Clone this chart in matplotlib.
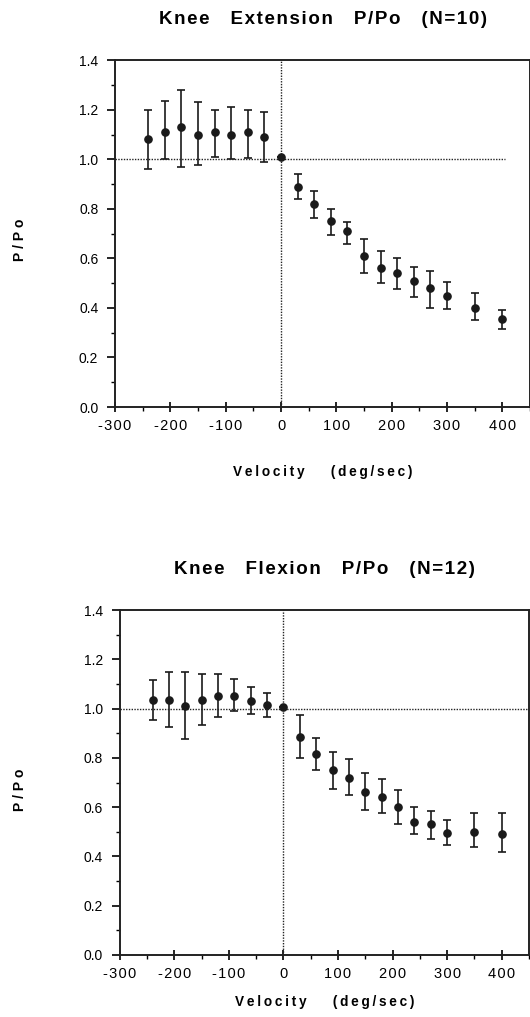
import numpy as np
import matplotlib.pyplot as plt
from matplotlib.ticker import MultipleLocator

plt.rcParams['font.family'] = ['Liberation Sans', 'DejaVu Sans']
plt.rcParams['axes.unicode_minus'] = False

# velocities (deg/sec)
velocity = [-240, -210, -180, -150, -120, -90, -60, -30, 0,
            30, 60, 90, 120, 150, 180, 210, 240, 270, 300, 350, 400]

# Knee extension (N=10)
ext_mean = [1.08, 1.11, 1.13, 1.10, 1.11, 1.10, 1.11, 1.09, 1.01,
            0.89, 0.82, 0.75, 0.71, 0.61, 0.56, 0.54, 0.51, 0.48, 0.45, 0.40, 0.355]
ext_hi = [1.20, 1.235, 1.28, 1.23, 1.20, 1.21, 1.20, 1.19, 1.01,
          0.94, 0.87, 0.80, 0.745, 0.68, 0.63, 0.60, 0.565, 0.55, 0.505, 0.46, 0.39]
ext_lo = [0.96, 1.00, 0.97, 0.975, 1.01, 1.00, 1.005, 0.99, 1.01,
          0.84, 0.765, 0.695, 0.66, 0.54, 0.50, 0.475, 0.445, 0.40, 0.395, 0.35, 0.315]

# Knee flexion (N=12)
flx_mean = [1.035, 1.035, 1.01, 1.035, 1.05, 1.05, 1.03, 1.015, 1.005,
            0.885, 0.815, 0.75, 0.72, 0.66, 0.64, 0.60, 0.54, 0.53, 0.495, 0.50, 0.49]
flx_hi = [1.115, 1.15, 1.15, 1.14, 1.14, 1.12, 1.09, 1.065, 1.005,
          0.975, 0.88, 0.825, 0.795, 0.74, 0.715, 0.67, 0.60, 0.585, 0.55, 0.575, 0.575]
flx_lo = [0.955, 0.925, 0.875, 0.935, 0.965, 0.99, 0.98, 0.965, 1.005,
          0.80, 0.75, 0.675, 0.65, 0.59, 0.575, 0.53, 0.49, 0.47, 0.445, 0.44, 0.42]

xticks = [-300, -200, -100, 0, 100, 200, 300, 400]
yticks = [0.0, 0.2, 0.4, 0.6, 0.8, 1.0, 1.2, 1.4]

W, H = 530, 1017


def spaced(s, sp):
    # fake the wide letter spacing of the old typewriter-ish labels
    return sp.join(s)


def panel(ax, title, mean, hi, lo, hline_end, xlabelpad):
    mean = np.array(mean)
    yerr = [mean - np.array(lo), np.array(hi) - mean]
    ax.errorbar(velocity, mean, yerr=yerr, fmt='o', color='#1a1a1a',
                ms=5.2, lw=1.2, capsize=2.6, capthick=1.2)
    ax.plot([-300, hline_end], [1.0, 1.0], color='#222222', lw=1.0,
            ls=(0, (1, 1)))
    ax.axvline(0, color='#222222', lw=1.0, ls=(0, (1, 1)))
    ax.set_xlim(-300, 450)
    ax.set_ylim(0, 1.4)
    ax.set_xticks(xticks)
    ax.set_xticklabels([spaced(str(v), '\u200a') for v in xticks])
    ax.set_yticks(yticks)
    ax.set_yticklabels([f'{v:.1f}' for v in yticks])
    ax.xaxis.set_minor_locator(MultipleLocator(50))
    ax.yaxis.set_minor_locator(MultipleLocator(0.1))
    ax.tick_params(axis='x', which='major', direction='inout', length=7,
                   width=1.2, labelsize=10.5, pad=5)
    ax.tick_params(axis='x', which='minor', direction='out', length=3, width=1.0)
    ax.tick_params(axis='y', which='major', direction='out', length=6,
                   width=1.2, labelsize=10, pad=6)
    ax.tick_params(axis='y', which='minor', direction='out', length=3, width=1.0)
    for s in ax.spines.values():
        s.set_linewidth(1.4)
        s.set_color('#222222')
    words = [spaced(w, '\u200a') for w in title.split()]
    ax.set_title('    '.join(words), fontsize=13.5, fontweight='bold', pad=26)
    xl = spaced('Velocity', '\u2009') + '       ' + spaced('(deg/sec)', '\u2009')
    ax.set_xlabel(xl, fontsize=9.8, fontweight='bold', labelpad=xlabelpad)


fig = plt.figure(figsize=(W / 100, H / 100), dpi=100)
ax1 = fig.add_axes([0.217, 0.5998, 0.783, 0.341])
ax2 = fig.add_axes([0.226, 0.061, 0.772, 0.339])

panel(ax1, 'Knee Extension P/Po (N=10)', ext_mean, ext_hi, ext_lo, 405, 23)
panel(ax2, 'Knee Flexion P/Po (N=12)', flx_mean, flx_hi, flx_lo, 450, 10)

for yc in (240, 790):
    fig.text(20 / W, 1 - yc / H, spaced('P/Po', '\u2009\u200a'), rotation=90,
             fontsize=10, fontweight='bold', ha='center', va='center')

fig.savefig('out.png', dpi=100)
